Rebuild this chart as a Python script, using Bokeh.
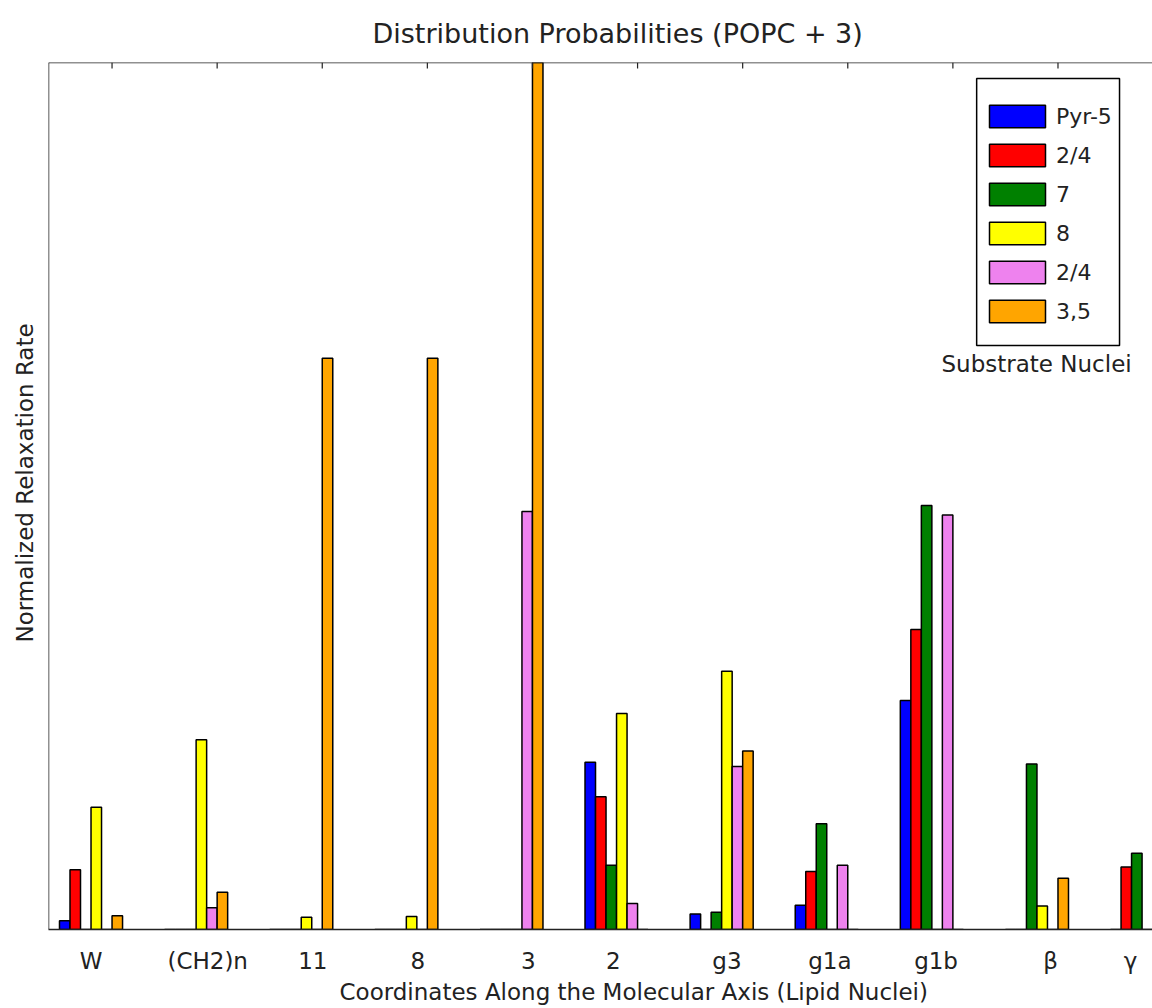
from bokeh.plotting import figure
from bokeh.models import (Range1d, LinearAxis, FixedTicker, Legend, LegendItem,
                          BoxAnnotation, Label, Title, Span)
from bokeh.embed import file_html
from bokeh.resources import INLINE

# ---------------- data ----------------
categories = ["W", "(CH2)n", "11", "8", "3", "2", "g3", "g1a", "g1b", "β", "γ"]
series_names = ["Pyr-5", "2/4", "7", "8", "2/4", "3,5"]
pyr5 = [0.010, 0.0, 0.0, 0.0, 0.0, 0.193, 0.018, 0.028, 0.264, 0.0, 0.0]
h24a = [0.069, 0.0, 0.0, 0.0, 0.0, 0.153, 0.0, 0.067, 0.346, 0.0, 0.072]
h7 = [0.0, 0.0, 0.0, 0.0, 0.0, 0.074, 0.020, 0.122, 0.489, 0.191, 0.088]
h8 = [0.141, 0.219, 0.014, 0.015, 0.0, 0.249, 0.298, 0.0, 0.0, 0.027, 0.0]
h24b = [0.0, 0.025, 0.0, 0.0, 0.482, 0.030, 0.188, 0.074, 0.478, 0.0, 0.0]
h35 = [0.016, 0.043, 0.659, 0.659, 1.0, 0.0, 0.206, 0.0, 0.0, 0.059, 0.0]
series = [pyr5, h24a, h7, h8, h24b, h35]

# ---------------- style ----------------
colors = ["#0000ff", "#ff0000", "#008000", "#ffff00", "#ee82ee", "#ffa500"]
bar_w = 0.1
label_offsets = [0.30, 0.41, 0.41, 0.41, 0.46, 0.27, 0.35, 0.33, 0.34, 0.43, 0.19]
FONT = "DejaVu Sans"
TXT = "#222222"
AX_COL = "#222222"

# pixel mapping helpers (frame: left 47, right 1152, top 62, bottom 929)
PX_UNIT = 105.2
X0 = -11 / PX_UNIT
FRAME_W = 1105
FRAME_H = 867


def dx(px):
    return (px - 58) / PX_UNIT


def dy(py):
    return (929 - py) / FRAME_H


p = figure(width=1152, height=1008, output_backend="svg", toolbar_location=None,
           x_axis_type=None, y_axis_type=None,
           x_range=Range1d(X0, X0 + FRAME_W / PX_UNIT), y_range=Range1d(0, 1),
           min_border_left=47, min_border_right=0, min_border_top=62,
           min_border_bottom=79)
p.outline_line_color = None
p.background_fill_color = "white"
p.border_fill_color = "white"

renderers = []
idx = list(range(len(categories)))
for j, (vals, col) in enumerate(zip(series, colors)):
    xs = [i + bar_w * j + bar_w / 2 for i in idx]
    r = p.vbar(x=xs, top=vals, bottom=0, width=bar_w, fill_color=col,
               line_color="black", line_width=1.5)
    renderers.append(r)

# bottom axis with category labels
label_ticks = [round(i + o, 3) for i, o in zip(idx, label_offsets)]
xb = LinearAxis(ticker=FixedTicker(ticks=label_ticks),
                major_label_overrides={t: c for t, c in zip(label_ticks, categories)})
xb.major_tick_in = 0
xb.major_tick_out = 0
xb.minor_tick_in = 0
xb.minor_tick_out = 0
xb.axis_line_color = AX_COL
xb.axis_line_width = 1.5
xb.major_label_text_font = FONT
xb.major_label_text_font_size = "23px"
xb.major_label_text_color = TXT
xb.major_label_standoff = 18
p.add_layout(xb, "below")

# top and left spines, inward ticks at group centres on top
p.add_layout(Span(location=1, dimension="width", line_color=AX_COL, line_width=1.5))
p.add_layout(Span(location=X0, dimension="height", line_color=AX_COL, line_width=1.5))
tick_x = [i + 0.5 for i in idx]
p.segment(x0=tick_x, x1=tick_x, y0=[1.0] * len(idx), y1=[1.0 - 6 / FRAME_H] * len(idx),
          line_color=AX_COL, line_width=1.2)

# y axis label
yl = Title(text="Normalized Relaxation Rate", align="left", offset=287,
           vertical_align="middle",
           text_font=FONT, text_font_size="23px", text_font_style="normal",
           text_color=TXT, standoff=20)
p.add_layout(yl, "left")

# title
t = Title(text="Distribution Probabilities (POPC + 3)", align="left", offset=324,
          vertical_align="top",
          text_font=FONT, text_font_size="27px", text_font_style="normal",
          text_color=TXT, standoff=24)
p.add_layout(t, "above")

# x axis label
xl = Title(text="Coordinates Along the Molecular Axis (Lipid Nuclei)", align="left",
           offset=291, text_font=FONT, text_font_size="23px", text_font_style="normal",
           text_color=TXT, standoff=0)
p.add_layout(xl, "below")

# legend frame
p.add_layout(BoxAnnotation(left=dx(976), right=dx(1119), top=dy(78), bottom=dy(345),
                           fill_color="white", fill_alpha=1.0,
                           line_color="black", line_width=1.5, line_alpha=1.0))

legend = Legend(items=[LegendItem(label=n, renderers=[r]) for n, r in zip(series_names, renderers)],
                location=(934, 604), padding=0, margin=0, spacing=11,
                glyph_width=70, glyph_height=28, label_standoff=4,
                label_text_font=FONT, label_text_font_size="22px",
                label_text_color=TXT, label_height=22,
                border_line_alpha=0, background_fill_alpha=0)
p.add_layout(legend)

p.add_layout(Label(x=dx(1036), y=dy(363), text="Substrate Nuclei",
                   text_align="center", text_baseline="middle",
                   text_font=FONT, text_font_size="23px", text_color=TXT))

open("out.html", "w").write(file_html(p, INLINE))
